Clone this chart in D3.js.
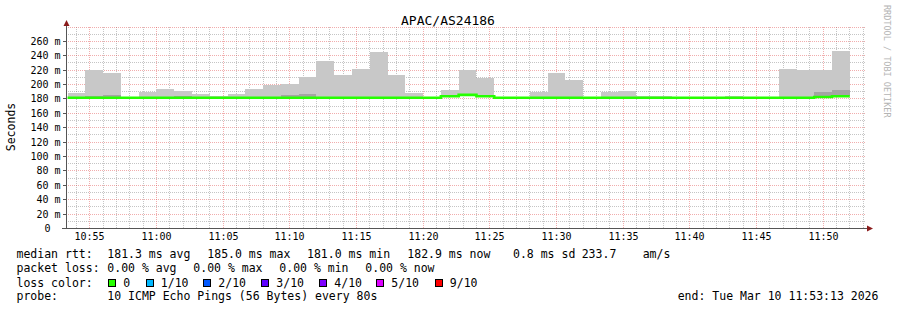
<!DOCTYPE html>
<html><head><meta charset="utf-8">
<script src="https://cdn.jsdelivr.net/npm/d3@7"></script>
<style>
body{margin:0;background:#fff}
svg{display:block}
text{font-family:"DejaVu Sans Mono",monospace;fill:#000}
</style>
</head><body>
<svg id="c" width="897" height="310"></svg>
<script>
// ---------------- data ----------------
const title = "APAC/AS24186";
const rangeStart = "10:53:13";
const rangeEnd = "11:53:13";
const stepStarts = ["10:53:20","10:54:40","10:56:00","10:57:20","10:58:40","11:00:00","11:01:20","11:02:40",
  "11:04:00","11:05:20","11:06:40","11:08:00","11:09:20","11:10:40","11:12:00","11:13:20","11:14:40","11:16:00",
  "11:17:20","11:18:40","11:20:00","11:21:20","11:22:40","11:24:00","11:25:20","11:26:40","11:28:00","11:29:20",
  "11:30:40","11:32:00","11:33:20","11:34:40","11:36:00","11:37:20","11:38:40","11:40:00","11:41:20","11:42:40",
  "11:44:00","11:45:20","11:46:40","11:48:00","11:49:20","11:50:40"];
const lastStepEnd = "11:52:00";
// median rtt per step (ms)
const median = [181,181,181,181,181,181,181,181,181,181,181,181,181,181,181,181,181,181,181,181,181,
  183,185,183,181,181,181,181,181,181,181,181,181,181,181,181,181,181,181,181,181,181,182,183];
// top of outer smoke (max ping, ms)
const smokeMax = [188,220,215.5,181,189,193,190.5,186.5,183.5,186.5,193,199,200,210,232,212.5,221,244.5,
  212.5,187.5,181,192,219.5,209,181,181,189.5,215.5,206,181,189,190.5,183.5,183.5,182.5,181,181,183.5,
  181,181,221,220,220,246];
// top of inner (dense) smoke, ms
const smokeInner = [181,183.5,185,181,181,181,183.5,181,181,181,181,181,185,186.5,181,181,181,181,181,181,181,
  183,185,183,181,181,181,181,181,181,181,181,181,181,181,181,181,181,181,181,181,181,189,192];
const xTickLabels = ["10:55","11:00","11:05","11:10","11:15","11:20","11:25","11:30","11:35","11:40","11:45","11:50"];
const yTicks = [0,20,40,60,80,100,120,140,160,180,200,220,240,260];
const yTickLabels = ["0","20 m","40 m","60 m","80 m","100 m","120 m","140 m","160 m","180 m","200 m","220 m","240 m","260 m"];
const yMax = 280;
const lossLabels = ["0","1/10","2/10","3/10","4/10","5/10","9/10"];
const lossColors = ["#26ff00","#00b8ff","#0059ff","#5e00ff","#7e00ff","#dd00ff","#ff0000"];
const statsRtt = ["median rtt:","181.3 ms avg","185.0 ms max","181.0 ms min","182.9 ms now","0.8 ms sd","233.7","am/s"];
const statsLoss = ["packet loss:","0.00 % avg","0.00 % max","0.00 % min","0.00 % now"];
const probeText = ["probe:","10 ICMP Echo Pings (56 Bytes) every 80s"];
const endText = "end: Tue Mar 10 11:53:13 2026";
const yLabel = "Seconds";
const watermark = "RRDTOOL / TOBI OETIKER";

// ---------------- drawing ----------------
const parse = d3.timeParse("%H:%M:%S");
const svg = d3.select("#c");
const x = d3.scaleTime().domain([parse(rangeStart), parse(rangeEnd)]).range([66, 866]);
const y = d3.scaleLinear().domain([0, yMax]).range([228, 26.5]);
const plotTop = 27, plotBottom = 228.5, plotLeft = 66, plotRight = 866;

// grid
const g = svg.append("g").attr("shape-rendering","crispEdges");
const minorY = d3.range(10, yMax + 1, 10).filter(v => v % 20 !== 0);
g.selectAll(".hmin").data(minorY).join("line")
  .attr("x1", plotLeft).attr("x2", plotRight)
  .attr("y1", d => Math.round(y(d)) + 0.5).attr("y2", d => Math.round(y(d)) + 0.5)
  .attr("stroke","rgba(140,140,140,0.5)").attr("stroke-dasharray","1,1");
const minuteTicks = x.ticks(d3.timeMinute.every(1)).filter(t => t.getMinutes() % 5 !== 0);
g.selectAll(".vmin").data(minuteTicks).join("line")
  .attr("x1", d => Math.floor(x(d)) + 0.5).attr("x2", d => Math.floor(x(d)) + 0.5)
  .attr("y1", plotTop).attr("y2", plotBottom)
  .attr("stroke","rgba(140,140,140,0.5)").attr("stroke-dasharray","1,1");
const majorY = yTicks.filter(v => v > 0).concat([280]);
g.selectAll(".hmaj").data(majorY).join("line")
  .attr("x1", plotLeft).attr("x2", plotRight)
  .attr("y1", d => Math.round(y(d)) + 0.5).attr("y2", d => Math.round(y(d)) + 0.5)
  .attr("stroke","rgba(222,60,60,0.42)").attr("stroke-dasharray","1,1");
const majorX = xTickLabels.map(s => parse(s + ":00"));
g.selectAll(".vmaj").data(majorX).join("line")
  .attr("x1", d => Math.floor(x(d)) + 0.5).attr("x2", d => Math.floor(x(d)) + 0.5)
  .attr("y1", plotTop).attr("y2", plotBottom)
  .attr("stroke","rgba(222,60,60,0.42)").attr("stroke-dasharray","1,1");

// smoke
const steps = stepStarts.map((s, i) => ({
  t0: parse(s),
  t1: parse(i + 1 < stepStarts.length ? stepStarts[i + 1] : lastStepEnd),
  med: median[i], max: smokeMax[i], inner: smokeInner[i]
}));
const sm = svg.append("g").attr("shape-rendering","crispEdges");
sm.selectAll(".outer").data(steps.filter(d => d.max > d.med)).join("rect")
  .attr("x", d => x(d.t0)).attr("width", d => x(d.t1) - x(d.t0))
  .attr("y", d => y(d.max)).attr("height", d => y(d.med) - y(d.max))
  .attr("fill","#c8c8c8");
sm.selectAll(".inner").data(steps.filter(d => d.inner > d.med)).join("rect")
  .attr("x", d => x(d.t0)).attr("width", d => x(d.t1) - x(d.t0))
  .attr("y", d => y(d.inner)).attr("height", d => y(d.med) - y(d.inner))
  .attr("fill","#a4a4a4");

// median line
const linePts = steps.map(d => [d.t0, d.med]).concat([[parse(lastStepEnd), median[median.length - 1]]]);
svg.append("path")
  .attr("d", d3.line().x(d => x(d[0])).y(d => y(d[1])).curve(d3.curveStepAfter)(linePts))
  .attr("fill","none").attr("stroke", lossColors[0]).attr("stroke-width", 2.6);

// axes
const ax = svg.append("g").attr("shape-rendering","crispEdges");
ax.append("line").attr("x1", 62).attr("x2", 868).attr("y1", 228.5).attr("y2", 228.5).attr("stroke","#555");
ax.append("line").attr("x1", 66.5).attr("x2", 66.5).attr("y1", 24).attr("y2", 229).attr("stroke","#555");
ax.selectAll(".yt").data(yTicks.filter(v => v > 0)).join("line")
  .attr("x1", 63).attr("x2", 66).attr("y1", d => Math.round(y(d)) + 0.5).attr("y2", d => Math.round(y(d)) + 0.5)
  .attr("stroke","#555");
svg.append("path").attr("d","M63.5,26 L66.5,20 L69.5,26 Z").attr("fill","#8b1c1c");
svg.append("path").attr("d","M867,225.5 L873,228.5 L867,231.5 Z").attr("fill","#8b1c1c");

// axis labels
svg.selectAll(".yl").data(yTicks).join("text")
  .attr("x", d => d === 0 ? 50.5 : 60.5)
  .attr("y", d => Math.round(y(d)) + 4)
  .attr("text-anchor","end").attr("font-size", 10)
  .text((d, i) => yTickLabels[i]);
svg.selectAll(".xl").data(majorX).join("text")
  .attr("x", d => Math.floor(x(d)) + 0.5).attr("y", 239.5)
  .attr("text-anchor","middle").attr("font-size", 10)
  .text((d, i) => xTickLabels[i]);

// title & side texts
svg.append("text").attr("x", 448).attr("y", 24.5).attr("text-anchor","middle")
  .attr("font-size", 13).text(title);
svg.append("text").attr("transform","translate(15,127) rotate(-90)").attr("text-anchor","middle")
  .attr("font-size", 11.5).text(yLabel);
svg.append("text").attr("transform","translate(884,5) rotate(90)")
  .attr("font-size", 8.5).style("fill","#b4b4b4").text(watermark);

// legend
const fs = 11.5;
const rttX = [16.5,107.3,207.3,307,407.3,513,581.7,642.7];
statsRtt.forEach((s, i) => svg.append("text").attr("x", rttX[i]).attr("y", 258.3).attr("font-size", fs).text(s));
const lossX = [16.5,107.3,193.3,279.3,365.3];
statsLoss.forEach((s, i) => svg.append("text").attr("x", lossX[i]).attr("y", 272.3).attr("font-size", fs).text(s));
svg.append("text").attr("x", 16.5).attr("y", 286.5).attr("font-size", fs).text("loss color:");
const sqX = [108.5,146,203.5,261.5,319.5,376.5,435];
lossLabels.forEach((s, i) => {
  svg.append("rect").attr("x", sqX[i]).attr("y", 279.5).attr("width", 7).attr("height", 7)
    .attr("fill", lossColors[i]).attr("stroke","#000").attr("stroke-width",1).attr("shape-rendering","crispEdges");
  svg.append("text").attr("x", sqX[i] + 14.8).attr("y", 286.5).attr("font-size", fs).text(s);
});
svg.append("text").attr("x", 16.5).attr("y", 300).attr("font-size", fs).text(probeText[0]);
svg.append("text").attr("x", 107.3).attr("y", 300).attr("font-size", fs).text(probeText[1]);
svg.append("text").attr("x", 677.7).attr("y", 300).attr("font-size", fs).text(endText);
</script>
</body></html>
